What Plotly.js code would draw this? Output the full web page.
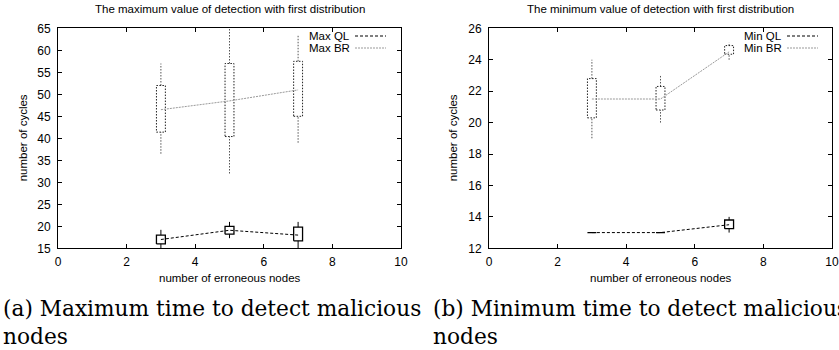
<!DOCTYPE html>
<html><head><meta charset="utf-8">
<script src="https://cdn.plot.ly/plotly-3.0.1.min.js"></script>
<style>html,body{margin:0;padding:0;background:#fff;} #chart{width:839px;height:350px;}</style>
</head><body><div id="chart"></div>
<script>
// ---- data ----
const nodes = [3, 5, 7];

// Panel (a): maximum time
const maxQL_low = [15, 17.3, 15];
const maxQL_q1  = [16, 18.2, 16.7];
const maxQL_med = [17, 19.1, 18];
const maxQL_q3  = [18, 20, 19.8];
const maxQL_high= [19.2, 21, 21];

const maxBR_low = [36.5, 32, 39];
const maxBR_q1  = [41.4, 40.4, 45];
const maxBR_med = [46.5, 48.5, 51];
const maxBR_q3  = [52, 57, 57.5];
const maxBR_high= [57, 67, 63.5];

// Panel (b): minimum time
const minQL_low = [13, 13, 13];
const minQL_q1  = [13, 13, 13.25];
const minQL_med = [13, 13, 13.5];
const minQL_q3  = [13, 13, 13.8];
const minQL_high= [13, 13, 14];

const minBR_low = [19, 20, 24];
const minBR_q1  = [20.3, 20.8, 24.35];
const minBR_med = [21.5, 21.5, 24.5];
const minBR_q3  = [22.8, 22.3, 24.9];
const minBR_high= [24, 23, 25.1];

const xTicks = [0, 2, 4, 6, 8, 10];
const yTicksA = [15, 20, 25, 30, 35, 40, 45, 50, 55, 60, 65];
const yTicksB = [12, 14, 16, 18, 20, 22, 24, 26];

const titleA = 'The maximum value of detection with first distribution';
const titleB = 'The minimum value of detection with first distribution';
const xTitle = 'number of erroneous nodes';
const yTitle = 'number of cycles';
const legendA = ['Max QL', 'Max BR'];
const legendB = ['Min QL', 'Min BR'];
const captionA = '(a) Maximum time to detect malicious<br>nodes';
const captionB = '(b) Minimum time to detect malicious<br>nodes';

// ---- helpers ----
const W = 839, H = 350;
const HW = 0.13; // candle half width (x units)
function px(x) { return x / W; }
function py(y) { return 1 - y / H; }

function candle(xs, lo, q1, q3, hi) {
  const bx = [], by = [], wx = [], wy = [];
  xs.forEach((x, i) => {
    bx.push(x - HW, x + HW, x + HW, x - HW, x - HW, null);
    by.push(q1[i], q1[i], q3[i], q3[i], q1[i], null);
    wx.push(x, x, null, x, x, null);
    wy.push(q3[i], hi[i], null, lo[i], q1[i], null);
  });
  return { bx, by, wx, wy };
}

function traces(xa, ya, ql, br) {
  const cq = candle(nodes, ql.lo, ql.q1, ql.q3, ql.hi);
  const cb = candle(nodes, br.lo, br.q1, br.q3, br.hi);
  const common = { type: 'scatter', mode: 'lines', xaxis: xa, yaxis: ya, showlegend: false, hoverinfo: 'skip' };
  return [
    Object.assign({}, common, { x: cb.wx, y: cb.wy, line: { color: '#555', width: 1, dash: '1.5px,1.5px' } }),
    Object.assign({}, common, { x: cb.bx, y: cb.by, line: { color: '#222', width: 1, dash: '1.5px,1.5px' } }),
    Object.assign({}, common, { x: nodes, y: br.med, name: br.name, line: { color: '#999', width: 1, dash: '2px,1px' } }),
    Object.assign({}, common, { x: cq.wx, y: cq.wy, line: { color: '#000', width: 1 } }),
    Object.assign({}, common, { x: cq.bx, y: cq.by, line: { color: '#000', width: 1.3 } }),
    Object.assign({}, common, { x: nodes, y: ql.med, name: ql.name, line: { color: '#000', width: 1, dash: '3px,2px' } })
  ];
}

const data = [].concat(
  traces('x', 'y',
    { lo: maxQL_low, q1: maxQL_q1, med: maxQL_med, q3: maxQL_q3, hi: maxQL_high, name: legendA[0] },
    { lo: maxBR_low, q1: maxBR_q1, med: maxBR_med, q3: maxBR_q3, hi: maxBR_high, name: legendA[1] }),
  traces('x2', 'y2',
    { lo: minQL_low, q1: minQL_q1, med: minQL_med, q3: minQL_q3, hi: minQL_high, name: legendB[0] },
    { lo: minBR_low, q1: minBR_q1, med: minBR_med, q3: minBR_q3, hi: minBR_high, name: legendB[1] })
);

const sans = 'Liberation Sans, Arial, Helvetica, sans-serif';
const FS = 11.5;
function axis(extra) {
  return Object.assign({
    showline: true, linecolor: '#000', linewidth: 1, mirror: 'ticks',
    ticks: 'inside', ticklen: 4, tickcolor: '#000', tickwidth: 1,
    showgrid: false, zeroline: false, fixedrange: true,
    tickfont: { family: sans, size: 12, color: '#000' }
  }, extra);
}

const yTop = 28.3, yBot = 248.3;
const xA0 = 58, xA1 = 401, xB0 = 489, xB1 = 832;

const layout = {
  width: W, height: H,
  margin: { l: 0, r: 0, t: 0, b: 0 },
  paper_bgcolor: '#fff', plot_bgcolor: '#fff',
  showlegend: false,
  xaxis: axis({ domain: [px(xA0), px(xA1)], range: [0, 10], tickvals: xTicks, anchor: 'y', ticklabelstandoff: 2 }),
  yaxis: axis({ domain: [py(yBot), py(yTop)], range: [15, 65], tickvals: yTicksA, anchor: 'x', ticklabelstandoff: 4 }),
  xaxis2: axis({ domain: [px(xB0), px(xB1)], range: [0, 10], tickvals: xTicks, anchor: 'y2', ticklabelstandoff: 2 }),
  yaxis2: axis({ domain: [py(yBot), py(yTop)], range: [12, 26], tickvals: yTicksB, anchor: 'x2', ticklabelstandoff: 4 }),
  annotations: [],
  shapes: []
};

function ann(text, x, y, opts) {
  layout.annotations.push(Object.assign({
    text: text, xref: 'paper', yref: 'paper', x: px(x), y: py(y),
    showarrow: false, xanchor: 'center', yanchor: 'middle',
    font: { family: sans, size: FS, color: '#000' }
  }, opts || {}));
}

// titles
ann(titleA, (xA0 + xA1) / 2, 9.5);
ann(titleB, (xB0 + xB1) / 2, 9.5);
// axis titles
ann(xTitle, (xA0 + xA1) / 2, 278);
ann(xTitle, (xB0 + xB1) / 2, 278);
ann(yTitle, 23, (yTop + yBot) / 2, { textangle: -90 });
ann(yTitle, 453, (yTop + yBot) / 2, { textangle: -90 });

// legends (gnuplot style: text then sample)
function legend(names, textRight, s0, s1) {
  const ys = [36, 48];
  const styles = [{ color: '#000', width: 1, dash: '3px,2px' }, { color: '#999', width: 1, dash: '2px,1px' }];
  names.forEach((n, i) => {
    ann(n, textRight, ys[i], { xanchor: 'right' });
    layout.shapes.push({ type: 'line', xref: 'paper', yref: 'paper', x0: px(s0), x1: px(s1), y0: py(ys[i]), y1: py(ys[i]), line: styles[i] });
  });
}
legend(legendA, 352, 355, 386);
legend(legendB, 784, 787, 818);

// captions
const serif = 'DejaVu Serif, Liberation Serif, serif';
ann(captionA, 1, 294, { xanchor: 'left', yanchor: 'top', align: 'left', font: { family: serif, size: 21.7, color: '#000' } });
ann(captionB, 431, 294, { xanchor: 'left', yanchor: 'top', align: 'left', font: { family: serif, size: 21.7, color: '#000' } });

Plotly.newPlot('chart', data, layout, { displayModeBar: false, staticPlot: true });
</script>
</body></html>
